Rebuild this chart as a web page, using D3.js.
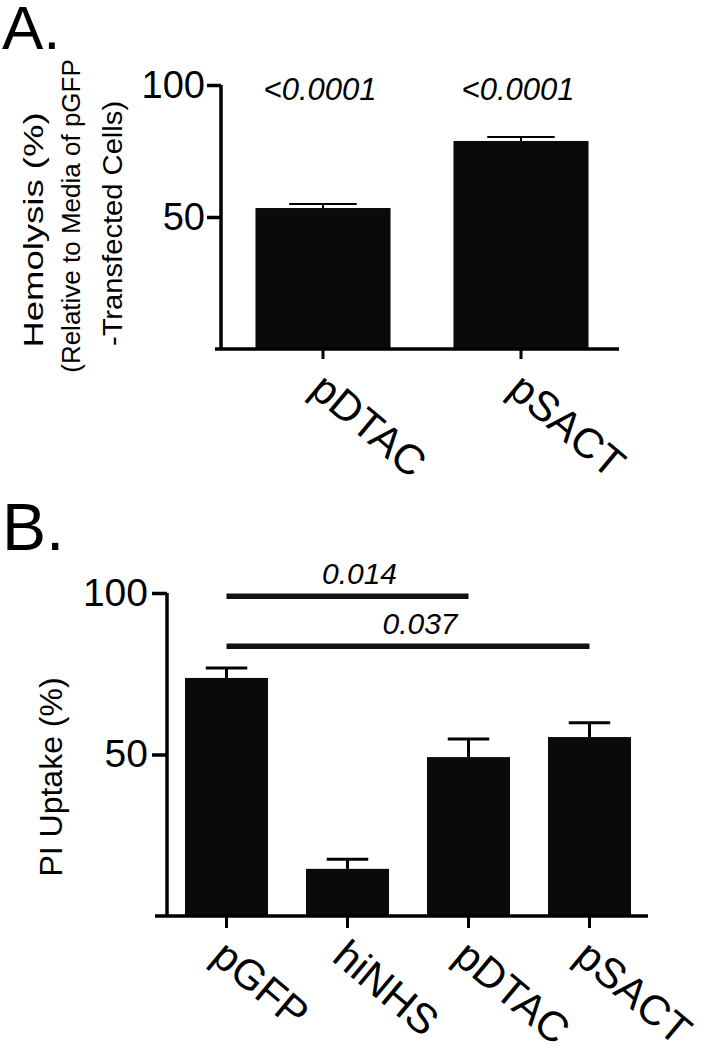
<!DOCTYPE html>
<html>
<head>
<meta charset="utf-8">
<script src="https://cdn.jsdelivr.net/npm/d3@7/dist/d3.min.js"></script>
<style>
  html, body { margin: 0; padding: 0; background: #fff; }
  svg { display: block; }
  text { font-family: "Liberation Sans", Arial, Helvetica, sans-serif; fill: #000; }
</style>
</head>
<body>
<svg id="chart" width="717" height="1050"></svg>
<script>
// ---- Panel A data ----
const catsA = ["pDTAC", "pSACT"];
const valsA = [53.4, 78.8];
const errA = [1.5, 1.5];
const pLabelsA = ["<0.0001", "<0.0001"];
const ticksA = [50, 100];

// ---- Panel B data ----
const catsB = ["pGFP", "hiNHS", "pDTAC", "pSACT"];
const valsB = [73.7, 14.6, 49.2, 55.4];
const errB = [3.1, 3.0, 5.6, 4.4];
const ticksB = [50, 100];
const compFrom = ["pGFP", "pGFP"];
const compTo = ["pDTAC", "pSACT"];
const compLevel = [99, 83.5];
const compLabel = ["0.014", "0.037"];

const svg = d3.select("#chart");
svg.append("rect").attr("width", 717).attr("height", 1050).attr("fill", "#fff");

const labelAngle = 40;

// ================= Panel A =================
const gA = svg.append("g");
const yA = d3.scaleLinear().domain([0, 100]).range([349, 85]);
const xA = d3.scaleBand().domain(catsA).range([224, 620]).paddingInner(0.318).paddingOuter(0.159);
const axisXA = 221;

gA.append("text").attr("x", 2).attr("y", 49).attr("font-size", 62).text("A.");

gA.selectAll("rect.bar").data(catsA).join("rect")
  .attr("x", d => xA(d)).attr("width", xA.bandwidth())
  .attr("y", (d, i) => yA(valsA[i])).attr("height", (d, i) => yA(0) - yA(valsA[i]))
  .attr("fill", "#0a0a0a");

catsA.forEach((d, i) => {
  const cx = xA(d) + xA.bandwidth() / 2;
  gA.append("line").attr("x1", cx).attr("x2", cx)
    .attr("y1", yA(valsA[i])).attr("y2", yA(valsA[i] + errA[i]))
    .attr("stroke", "#000").attr("stroke-width", 2);
  gA.append("line").attr("x1", cx - xA.bandwidth() / 4).attr("x2", cx + xA.bandwidth() / 4)
    .attr("y1", yA(valsA[i] + errA[i])).attr("y2", yA(valsA[i] + errA[i]))
    .attr("stroke", "#000").attr("stroke-width", 2);
  gA.append("text").attr("x", cx - 3).attr("y", 100)
    .attr("text-anchor", "middle").attr("font-size", 31).attr("font-style", "italic")
    .text(pLabelsA[i]);
});

const yAxA = gA.append("g").attr("transform", `translate(${axisXA},0)`)
  .call(d3.axisLeft(yA).tickValues(ticksA).tickSize(14).tickSizeOuter(0).tickPadding(2));
yAxA.select(".domain").attr("d", `M0,${yA(100)}V${yA(0)}`).attr("stroke-width", 3.5);
yAxA.selectAll(".tick line").attr("stroke-width", 3.5);
yAxA.selectAll(".tick text").attr("font-size", 38).attr("font-family", "Liberation Sans, Arial, sans-serif");

const xAxA = gA.append("g").attr("transform", `translate(0,${yA(0)})`)
  .call(d3.axisBottom(xA).tickSize(10).tickSizeOuter(0).tickFormat(""));
xAxA.select(".domain").attr("d", `M${axisXA - 6},0H${xA.range()[1] - 1}`).attr("stroke-width", 3.5);
xAxA.selectAll(".tick line").attr("stroke-width", 3);
gA.selectAll("text.xlab").data(catsA).join("text")
  .attr("class", "xlab")
  .attr("transform", d => `translate(${xA(d) + xA.bandwidth() / 2 - 15},${yA(0) + 44}) rotate(${labelAngle})`)
  .attr("font-size", 42).text(d => d);

// y title (three lines)
gA.append("text").attr("transform", "translate(43,230) rotate(-90) scale(1,0.78)")
  .attr("text-anchor", "middle").attr("font-size", 36.5).text("Hemolysis (%)");
gA.append("text").attr("transform", "translate(80,216) rotate(-90)")
  .attr("text-anchor", "middle").attr("font-size", 26).text("(Relative to Media of pGFP");
gA.append("text").attr("transform", "translate(122,223.5) rotate(-90) scale(1.08,1)")
  .attr("text-anchor", "middle").attr("font-size", 27).text("-Transfected Cells)");

// ================= Panel B =================
const gB = svg.append("g");
const yB = d3.scaleLinear().domain([0, 100]).range([916, 593]);
const xB = d3.scaleBand().domain(catsB).range([166, 650]).paddingInner(0.314).paddingOuter(0.157);
const axisXB = 167;

gB.append("text").attr("x", 2).attr("y", 550).attr("font-size", 66).text("B.");

gB.selectAll("rect.bar").data(catsB).join("rect")
  .attr("x", d => xB(d)).attr("width", xB.bandwidth())
  .attr("y", (d, i) => yB(valsB[i])).attr("height", (d, i) => yB(0) - yB(valsB[i]))
  .attr("fill", "#0a0a0a");

catsB.forEach((d, i) => {
  const cx = xB(d) + xB.bandwidth() / 2;
  gB.append("line").attr("x1", cx).attr("x2", cx)
    .attr("y1", yB(valsB[i])).attr("y2", yB(valsB[i] + errB[i]))
    .attr("stroke", "#000").attr("stroke-width", 3);
  gB.append("line").attr("x1", cx - xB.bandwidth() / 4).attr("x2", cx + xB.bandwidth() / 4)
    .attr("y1", yB(valsB[i] + errB[i])).attr("y2", yB(valsB[i] + errB[i]))
    .attr("stroke", "#000").attr("stroke-width", 3);
});

compFrom.forEach((f, i) => {
  const x1 = xB(f) + xB.bandwidth() / 2;
  const x2 = xB(compTo[i]) + xB.bandwidth() / 2;
  gB.append("line").attr("x1", x1).attr("x2", x2)
    .attr("y1", yB(compLevel[i])).attr("y2", yB(compLevel[i]))
    .attr("stroke", "#111").attr("stroke-width", 5.5);
  gB.append("text").attr("x", (x1 + x2) / 2 + 12).attr("y", yB(compLevel[i]) - 12)
    .attr("text-anchor", "middle").attr("font-size", 30).attr("font-style", "italic")
    .text(compLabel[i]);
});

const yAxB = gB.append("g").attr("transform", `translate(${axisXB},0)`)
  .call(d3.axisLeft(yB).tickValues(ticksB).tickSize(15).tickSizeOuter(0).tickPadding(4));
yAxB.select(".domain").attr("d", `M0,${yB(100)}V${yB(0)}`).attr("stroke-width", 3.5);
yAxB.selectAll(".tick line").attr("stroke-width", 3.5);
yAxB.selectAll(".tick text").attr("font-size", 39).attr("font-family", "Liberation Sans, Arial, sans-serif");

const xAxB = gB.append("g").attr("transform", `translate(0,${yB(0)})`)
  .call(d3.axisBottom(xB).tickSize(12).tickSizeOuter(0).tickFormat(""));
xAxB.select(".domain").attr("d", `M${axisXB - 12},0H${xB.range()[1] - 2}`).attr("stroke-width", 3.5);
xAxB.selectAll(".tick line").attr("stroke-width", 3);
gB.selectAll("text.xlab").data(catsB).join("text")
  .attr("class", "xlab")
  .attr("transform", d => `translate(${xB(d) + xB.bandwidth() / 2 - 17},${yB(0) + 44}) rotate(${labelAngle})`)
  .attr("font-size", 42).text(d => d);

gB.append("text").attr("transform", "translate(62,777) rotate(-90)")
  .attr("text-anchor", "middle").attr("font-size", 32).text("PI Uptake (%)");
</script>
</body>
</html>
